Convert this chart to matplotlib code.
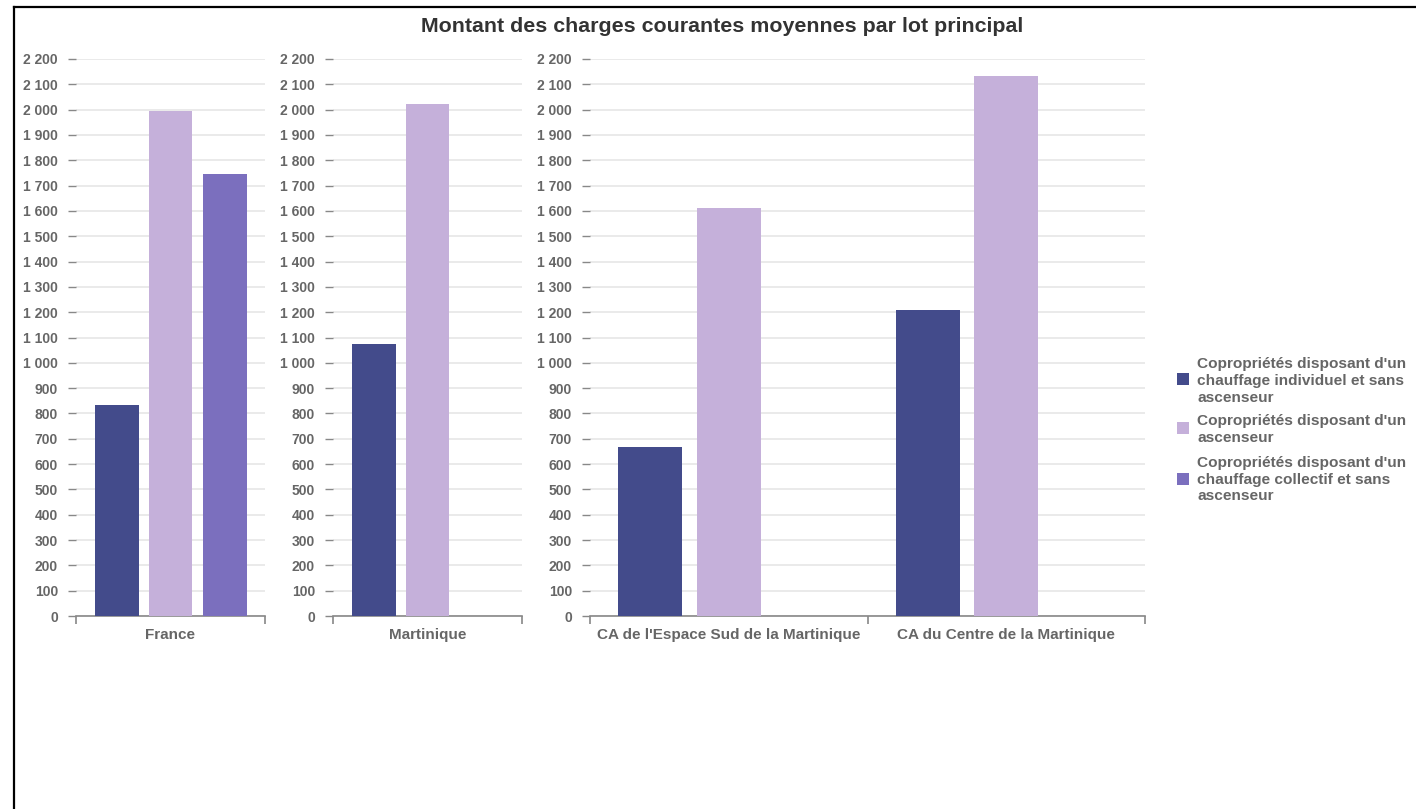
import matplotlib
matplotlib.use("Agg")
import matplotlib.pyplot as plt
import numpy as np
from matplotlib.lines import Line2D
from matplotlib.patches import Rectangle

plt.rcParams['font.family'] = ['Liberation Sans', 'DejaVu Sans']

title = "Montant des charges courantes moyennes par lot principal"
series_names = [
    "Copropriétés disposant d'un\nchauffage individuel et sans\nascenseur",
    "Copropriétés disposant d'un\nascenseur",
    "Copropriétés disposant d'un\nchauffage collectif et sans\nascenseur",
]
colors = ["#434b8b", "#c5b0da", "#7b6fbe"]

panel1_cats = ["France"]
panel1_vals = [[833], [1995], [1746]]
panel2_cats = ["Martinique"]
panel2_vals = [[1074], [2022], [np.nan]]
panel3_cats = ["CA de l'Espace Sud de la Martinique", "CA du Centre de la Martinique"]
panel3_vals = [[667, 1208], [1611, 2133], [np.nan, np.nan]]

yticks = list(range(0, 2201, 100))

W, H = 1416, 809
fig = plt.figure(figsize=(W / 100, H / 100), dpi=100)

def fmt(v):
    return f"{v:,}".replace(",", " ")

panels = [
    (76, 265, panel1_cats, panel1_vals),
    (333, 522, panel2_cats, panel2_vals),
    (590, 1145, panel3_cats, panel3_vals),
]
top_px, bot_px = 59, 616
offsets = [-0.283, 0.0, 0.288]
bw = 0.231
for (x0, x1, cats, vals) in panels:
    ax = fig.add_axes([x0 / W, 1 - bot_px / H, (x1 - x0) / W, (bot_px - top_px) / H])
    n = len(cats)
    ax.set_xlim(0, n)
    ax.set_ylim(0, 2200)
    for si, sv in enumerate(vals):
        xs = np.arange(n) + 0.5 + offsets[si]
        ax.bar(xs, sv, width=bw, color=colors[si], zorder=3)
    ax.set_yticks(yticks)
    ax.set_yticklabels([fmt(v) for v in yticks])
    ax.yaxis.grid(True, color="#e6e6e6", linewidth=1.2, zorder=0)
    ax.set_axisbelow(True)
    for s in ["left", "right", "top"]:
        ax.spines[s].set_visible(False)
    ax.spines["bottom"].set_color("#888888")
    ax.spines["bottom"].set_linewidth(1.2)
    ax.tick_params(axis="y", length=5.5, width=1, color="#888888", pad=7.5,
                   labelsize=10, labelcolor="#666666")
    for lab in ax.get_yticklabels():
        lab.set_fontweight("bold")
    ax.set_xticks(np.arange(n + 1))
    ax.set_xticklabels([""] * (n + 1))
    ax.tick_params(axis="x", which="major", length=6, width=1.2, color="#888888", direction="out")
    ax.set_xticks(np.arange(n) + 0.5, minor=True)
    ax.set_xticklabels(cats, minor=True)
    ax.tick_params(axis="x", which="minor", length=0, pad=8.5, labelsize=11, labelcolor="#666666")
    for lab in ax.get_xticklabels(minor=True):
        lab.set_fontweight("bold")

fig.text(722 / W, 1 - 27 / H, title, ha="center", va="center", fontsize=15.4,
         fontweight="bold", color="#333333")

# legend
legend_entries = [(379, 363), (428, 420), (479, 462)]
for i, (my, ty) in enumerate(legend_entries):
    fig.patches.append(Rectangle((1177 / W, 1 - (my + 6) / H), 12 / W, 12 / H,
                                 transform=fig.transFigure, facecolor=colors[i],
                                 edgecolor="none"))
    fig.text(1197 / W, 1 - (ty - 6) / H, series_names[i], ha="left", va="top",
             fontsize=11.1, fontweight="bold", color="#666666", linespacing=1.25)

# frame lines (top and left)
fig.add_artist(Line2D([14 / W, 1], [1 - 7 / H, 1 - 7 / H], transform=fig.transFigure,
                      color="black", linewidth=1.6))
fig.add_artist(Line2D([14 / W, 14 / W], [0, 1 - 7 / H], transform=fig.transFigure,
                      color="black", linewidth=1.6))

fig.savefig("out.png", dpi=100)
